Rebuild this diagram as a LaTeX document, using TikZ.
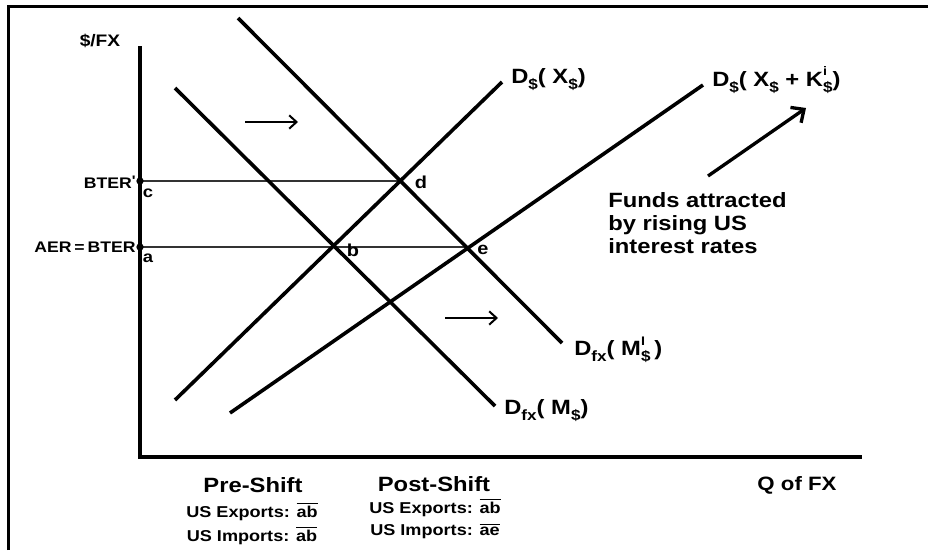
\documentclass[tikz,border=0pt]{standalone}
\usepackage{fontspec}
\setmainfont{Liberation Sans}
\usetikzlibrary{arrows.meta}
\newcommand{\sbx}[1]{\raisebox{-0.55ex}{\scalebox{0.72}{#1}}}
\newcommand{\spx}[1]{\raisebox{0.95ex}{\scalebox{0.6}{#1}}}
\newcommand{\ovl}[1]{$\overline{\hbox{#1}}$}
\begin{document}
\begin{tikzpicture}[x=0.75pt,y=-0.75pt,
  curve/.style={line width=2.7pt},
  axisline/.style={line width=3.4pt},
  frameline/.style={line width=2.3pt},
  guide/.style={line width=0.8pt, black!80},
  lbl/.style={inner sep=0pt, font=\bfseries\fontsize{#1}{#1}\selectfont, xscale=1.15, transform shape},
  lbl/.default=13pt,
  shiftarrow/.style={line width=1.5pt, -{Straight Barb[length=5.5pt,width=10pt,line width=1.5pt]}},
  bigarrow/.style={line width=2.5pt, -{Straight Barb[length=7.5pt,width=14pt,line width=2.5pt]}},
  dotmark/.style={circle, fill=black, inner sep=0pt, minimum size=5.5pt}]
\useasboundingbox (0,0) rectangle (928,550);
% frame
\draw[frameline] (8.5,550) -- (8.5,6.5) -- (928,6.5);
% axes
\coordinate (O) at (140,457);
\coordinate (Ytop) at (140,46);
\coordinate (Xend) at (862,457);
\draw[axisline] (Ytop) -- (O) -- (Xend);
% key points
\coordinate (b) at (334,247);
\coordinate (d) at (400,181);
\coordinate (e) at (468,247);
\coordinate (c) at (140,181);
\coordinate (a) at (140,247);
% guides
\draw[guide] (c) -- (d);
\draw[guide] (a) -- (e);
% curves
\coordinate (m1s) at (175,88);  \coordinate (m1e) at (495,406);
\coordinate (m2s) at (238,18);  \coordinate (m2e) at (562,343);
\coordinate (x1s) at (175,400); \coordinate (x1e) at (502,82);
\coordinate (x2s) at (230,413); \coordinate (x2e) at (703,85);
\draw[curve] (m1s) -- (m1e);
\draw[curve] (m2s) -- (m2e);
\draw[curve] (x1s) -- (x1e);
\draw[curve] (x2s) -- (x2e);
% dots
\node[dotmark] (dc) at (c) {};
\node[dotmark] (da) at (a) {};
% axis labels
\node[lbl=12.5pt] (ylab) at (100,41) {\$/FX};
\node[lbl=14.5pt] (xlab) at (797,485) {Q of FX};
\node[lbl=11.5pt, anchor=east] (bterp) at (136,182) {BTER\raisebox{0.35ex}{\scalebox{0.9}{\textquotesingle}}};
\node[lbl=11.5pt, anchor=east] (aer) at (136,247) {AER\,=\,BTER};
\node[lbl=12pt] (lc) at (148,193) {c};
\node[lbl=12pt] (la) at (148,258) {a};
\node[lbl=13pt] (ld) at (421,182) {d};
\node[lbl=13pt] (lb) at (353,250) {b};
\node[lbl=13pt] (le) at (483,250) {e};
% curve labels
\node[lbl=15.5pt, anchor=west] (tx1) at (511,80) {D\sbx{\$}( X\sbx{\$})};
\node[lbl=15.5pt, anchor=west] (tx2) at (712,80) {D\sbx{\$}( X\sbx{\$} + K\rlap{\spx{i}}\sbx{\$})};
\node[lbl=15.5pt, anchor=west] (tm2) at (574,350) {D\sbx{fx}( M\rlap{\spx{I}}\sbx{\$}\,)};
\node[lbl=15.5pt, anchor=west] (tm1) at (504,411) {D\sbx{fx}( M\sbx{\$})};
% shift arrows
\coordinate (s1a) at (245,122); \coordinate (s1b) at (298,122);
\coordinate (s2a) at (445,318); \coordinate (s2b) at (498,318);
\draw[shiftarrow] (s1a) -- (s1b);
\draw[shiftarrow] (s2a) -- (s2b);
% funds arrow
\coordinate (fa) at (708,176); \coordinate (fb) at (806,108);
\draw[bigarrow] (fa) -- (fb);
\node[lbl=15.5pt, anchor=base west] (f1) at (608,207) {Funds attracted};
\node[lbl=15.5pt, anchor=base west] (f2) at (608,230) {by rising US};
\node[lbl=15.5pt, anchor=base west] (f3) at (608,253) {interest rates};
% bottom texts
\node[lbl=15.5pt] (pre) at (253,485) {Pre-Shift};
\node[lbl=15.5pt] (post) at (434,484) {Post-Shift};
\node[lbl=11.8pt, anchor=base] (pre1) at (252,517) {US Exports: \ovl{ab}};
\node[lbl=11.8pt, anchor=base] (pre2) at (252,541) {US Imports: \ovl{ab}};
\node[lbl=11.8pt, anchor=base] (post1) at (435,513) {US Exports: \ovl{ab}};
\node[lbl=11.8pt, anchor=base] (post2) at (435,535) {US Imports: \ovl{ae}};
\end{tikzpicture}
\end{document}
